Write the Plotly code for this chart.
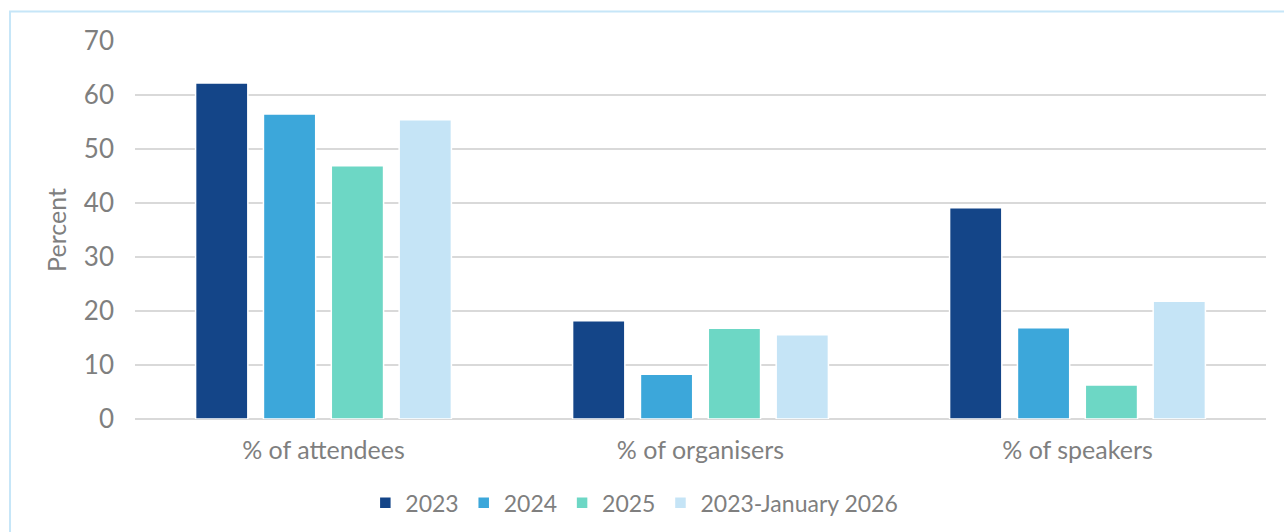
import plotly.graph_objects as go

# Share of women by role, per period
categories = ["% of attendees", "% of organisers", "% of speakers"]
series_names = ["2023", "2024", "2025", "2023-January 2026"]
values_2023 = [62.2, 18.2, 39.1]
values_2024 = [56.5, 8.3, 16.9]
values_2025 = [46.9, 16.8, 6.3]
values_2023_jan2026 = [55.4, 15.6, 21.8]
y_ticks = [0, 10, 20, 30, 40, 50, 60, 70]

series_values = [values_2023, values_2024, values_2025, values_2023_jan2026]
colors = ["#144588", "#3ca7da", "#6dd7c5", "#c5e4f6"]

FONT = "Lato, 'Open Sans', sans-serif"
TEXT_GREY = "#7f7f7f"
GRID = "#d9d9d9"

fig = go.Figure()
for name, vals, col in zip(series_names, series_values, colors):
    fig.add_trace(go.Bar(
        x=categories, y=vals, name=name,
        marker=dict(color=col, line=dict(color="white", width=1.5)),
    ))

fig.update_layout(
    width=1284, height=532,
    margin=dict(l=135, r=18, t=41, b=113, autoexpand=False),
    paper_bgcolor="white", plot_bgcolor="white",
    barmode="group", bargap=0.28, bargroupgap=0.23,
    font=dict(family=FONT, color=TEXT_GREY, size=22),
    showlegend=True,
    legend=dict(
        orientation="h", x=0.4415, xanchor="center", y=-0.222, yanchor="middle",
        font=dict(size=23, color=TEXT_GREY), traceorder="normal",
        itemwidth=30,
    ),
    xaxis=dict(
        showgrid=False, showline=False, ticks="", automargin=False,
        tickfont=dict(size=25, color=TEXT_GREY), ticklabelstandoff=14,
    ),
    yaxis=dict(
        range=[0, 70], tickvals=y_ticks, showgrid=True, gridcolor=GRID, gridwidth=1.5,
        zeroline=True, zerolinecolor=GRID, zerolinewidth=1.5, automargin=False,
        showline=False, ticks="", tickfont=dict(size=26, color=TEXT_GREY),
        ticklabelstandoff=20,
        title=dict(text="Percent", font=dict(size=25, color=TEXT_GREY), standoff=10),
    ),
    shapes=[dict(
        type="rect", xref="paper", yref="paper",
        x0=-0.1105, x1=1.03, y0=-0.35, y1=1.078,
        line=dict(color="#c6e6f8", width=2), fillcolor="rgba(0,0,0,0)", layer="below",
    )],
)

fig.write_html("out.html")
